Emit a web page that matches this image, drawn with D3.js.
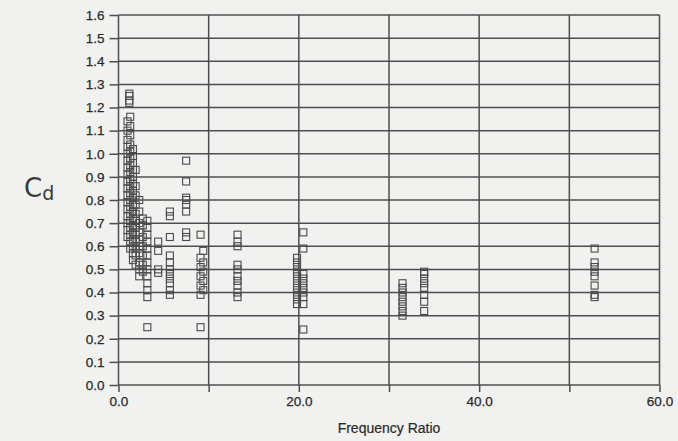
<!DOCTYPE html>
<html>
<head>
<meta charset="utf-8">
<script src="https://cdn.jsdelivr.net/npm/d3@7/dist/d3.min.js"></script>
<style>
  html, body { margin: 0; padding: 0; background: #f1f1ef; }
  svg { display: block; }
</style>
</head>
<body>
<div id="chart"></div>
<script>
// frequency ratio of each column of measurements
const freqRatio = [1.2, 1.0, 1.3, 1.6, 1.9, 2.3, 2.7, 3.2, 4.4, 5.7, 7.5, 9.1, 9.4, 13.2, 19.8, 20.5, 31.5, 33.9, 52.8];
// Cd values read for each column
const cdValues = [
  [1.26, 1.25, 1.23, 1.22],
  [1.14, 1.10, 1.06, 1.03, 1.00, 0.97, 0.94, 0.91, 0.88, 0.85, 0.82, 0.79, 0.76, 0.73, 0.70, 0.67, 0.64],
  [1.16, 1.12, 1.08, 1.04, 1.01, 0.98, 0.95, 0.92, 0.89, 0.86, 0.83, 0.80, 0.77, 0.74, 0.71, 0.68, 0.65, 0.62, 0.59],
  [1.02, 0.99, 0.96, 0.93, 0.90, 0.87, 0.84, 0.81, 0.78, 0.75, 0.72, 0.69, 0.66, 0.63, 0.60, 0.57, 0.54],
  [0.93, 0.86, 0.82, 0.78, 0.74, 0.71, 0.68, 0.65, 0.62, 0.59, 0.56, 0.52],
  [0.80, 0.75, 0.70, 0.66, 0.63, 0.60, 0.57, 0.53, 0.50, 0.47],
  [0.72, 0.69, 0.64, 0.60, 0.56, 0.52, 0.49],
  [0.71, 0.68, 0.65, 0.62, 0.59, 0.56, 0.53, 0.50, 0.47, 0.44, 0.41, 0.38, 0.25],
  [0.62, 0.58, 0.50, 0.485],
  [0.75, 0.73, 0.64, 0.56, 0.53, 0.50, 0.48, 0.46, 0.44, 0.41, 0.39],
  [0.97, 0.88, 0.81, 0.80, 0.78, 0.75, 0.66, 0.64],
  [0.65, 0.55, 0.51, 0.47, 0.43, 0.39, 0.25],
  [0.58, 0.53, 0.49, 0.45, 0.41],
  [0.65, 0.62, 0.60, 0.52, 0.50, 0.47, 0.45, 0.43, 0.40, 0.38],
  [0.55, 0.53, 0.51, 0.49, 0.47, 0.45, 0.43, 0.41, 0.39, 0.37, 0.35],
  [0.66, 0.59, 0.48, 0.46, 0.44, 0.42, 0.40, 0.38, 0.35, 0.24],
  [0.44, 0.42, 0.40, 0.38, 0.36, 0.34, 0.32, 0.30],
  [0.49, 0.48, 0.46, 0.44, 0.42, 0.39, 0.36, 0.32],
  [0.59, 0.53, 0.51, 0.49, 0.47, 0.43, 0.39, 0.38]
];
const xTicks = [0, 10, 20, 30, 40, 50, 60];
const xTickLabels = ["0.0", "", "20.0", "", "40.0", "", "60.0"];
const yTicks = d3.range(0, 17).map(i => i / 10);
const xTitle = "Frequency Ratio";

const width = 678, height = 441;
const svg = d3.select("#chart").append("svg")
  .attr("width", width)
  .attr("height", height);

const x = d3.scaleLinear().domain([0, 60]).range([118.5, 659.5]);
const y = d3.scaleLinear().domain([0, 1.6]).range([385, 15]);
const gridColor = "#4e4e4e";
const font = "'Liberation Sans', Arial, sans-serif";

// horizontal grid
svg.append("g")
  .selectAll("line")
  .data(yTicks)
  .join("line")
  .attr("x1", x(0)).attr("x2", x(60))
  .attr("y1", d => y(d)).attr("y2", d => y(d))
  .attr("stroke", gridColor).attr("stroke-width", 1.5);

// vertical grid
svg.append("g")
  .selectAll("line")
  .data(xTicks)
  .join("line")
  .attr("x1", d => x(d)).attr("x2", d => x(d))
  .attr("y1", y(0)).attr("y2", y(1.6))
  .attr("stroke", gridColor).attr("stroke-width", 1.5);

const yAxis = svg.append("g")
  .attr("transform", `translate(${x(0)},0)`)
  .call(d3.axisLeft(y).tickValues(yTicks).tickFormat(d3.format(".1f")).tickSize(9).tickPadding(5));
const xAxis = svg.append("g")
  .attr("transform", `translate(0,${y(0)})`)
  .call(d3.axisBottom(x).tickValues(xTicks).tickFormat((d, i) => xTickLabels[i]).tickSize(7).tickPadding(4));

[xAxis, yAxis].forEach(g => {
  g.select(".domain").remove();
  g.selectAll(".tick line").attr("stroke", gridColor).attr("stroke-width", 1.5);
  g.selectAll(".tick text")
    .attr("fill", "#2a2a2a")
    .attr("stroke", "#2a2a2a")
    .attr("stroke-width", 0.25)
    .style("font-family", font)
    .style("font-size", "13.5px");
});

// points
const points = freqRatio.flatMap((fr, i) => cdValues[i].map(cd => ({ fr, cd })));
svg.append("g")
  .selectAll("rect")
  .data(points)
  .join("rect")
  .attr("x", d => x(d.fr) - 3.5)
  .attr("y", d => y(d.cd) - 3.5)
  .attr("width", 7)
  .attr("height", 7)
  .attr("fill", "none")
  .attr("stroke", "#4a4a4a")
  .attr("stroke-width", 1.1);

svg.append("text")
  .attr("x", (x(0) + x(60)) / 2)
  .attr("y", 433)
  .attr("text-anchor", "middle")
  .attr("fill", "#2a2a2a")
  .attr("stroke", "#2a2a2a")
  .attr("stroke-width", 0.2)
  .style("font-family", font)
  .style("font-size", "14px")
  .text(xTitle);

// handwritten Cd label
const cd = svg.append("text")
  .attr("x", 24)
  .attr("y", 197)
  .attr("fill", "#3a3a3a")
  .style("font-family", "'DejaVu Sans', sans-serif")
  .style("font-size", "26px");
cd.append("tspan").text("C");
cd.append("tspan").attr("dy", 3).style("font-size", "19px").text("d");
</script>
</body>
</html>
